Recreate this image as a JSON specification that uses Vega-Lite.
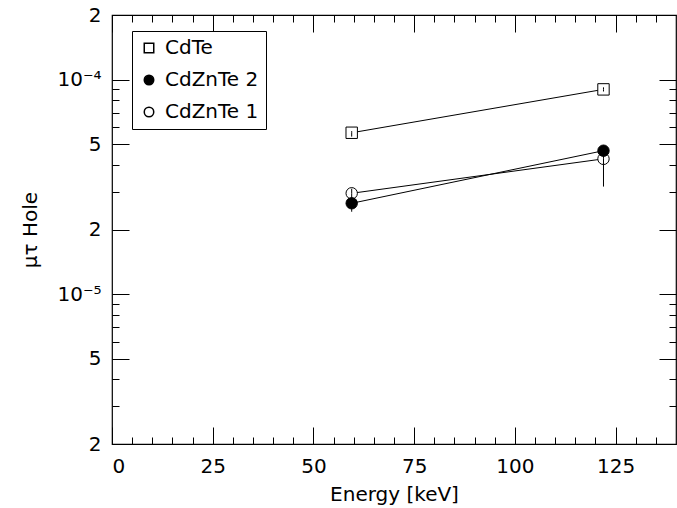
{
  "$schema": "https://vega.github.io/schema/vega-lite/v6.json",
  "width": 564,
  "height": 429,
  "autosize": "none",
  "padding": {"left": 112, "top": 15, "right": 1, "bottom": 64},
  "background": "white",
  "config": {
    "view": {"stroke": "black", "strokeWidth": 1.2},
    "axis": {
      "labelFont": "DejaVu Sans",
      "labelFontSize": 20,
      "labelColor": "black",
      "titleFont": "DejaVu Sans",
      "titleFontSize": 20,
      "titleFontWeight": "normal",
      "titleColor": "black",
      "tickColor": "black",
      "tickWidth": 1,
      "domain": false,
      "grid": false
    },
    "legend": {
      "labelFont": "DejaVu Sans",
      "labelFontSize": 20,
      "labelColor": "black"
    }
  },
  "data": {
    "values": [
      {"sample": "CdTe", "energy": 59.5, "mu": 5.65e-5, "lo": 5.42e-5, "hi": 5.75e-5},
      {"sample": "CdTe", "energy": 122, "mu": 9.0e-5, "lo": 8.8e-5, "hi": 9.2e-5},
      {"sample": "CdZnTe 1", "energy": 59.5, "mu": 2.95e-5, "lo": 2.8e-5, "hi": 3.1e-5},
      {"sample": "CdZnTe 1", "energy": 122, "mu": 4.27e-5, "lo": 3.17e-5, "hi": 4.5e-5},
      {"sample": "CdZnTe 2", "energy": 59.5, "mu": 2.65e-5, "lo": 2.42e-5, "hi": 2.8e-5},
      {"sample": "CdZnTe 2", "energy": 122, "mu": 4.66e-5, "lo": 4.5e-5, "hi": 4.8e-5}
    ]
  },
  "resolve": {"axis": {"x": "independent", "y": "independent"}},
  "layer": [
    {
      "mark": {"type": "line", "color": "black", "strokeWidth": 1},
      "encoding": {
        "x": {
          "field": "energy", "type": "quantitative",
          "scale": {"domain": [0, 140], "nice": false, "zero": false},
          "axis": {
            "orient": "bottom",
            "values": [0, 25, 50, 75, 100, 125],
            "tickSize": -17,
            "labelPadding": 29,
            "title": "Energy [keV]",
            "titlePadding": 8
          }
        },
        "y": {
          "field": "mu", "type": "quantitative",
          "scale": {"type": "log", "domain": [2e-6, 2e-4], "nice": false},
          "axis": {
            "orient": "left",
            "values": [2e-6, 5e-6, 1e-5, 2e-5, 5e-5, 1e-4, 2e-4],
            "tickSize": -17,
            "labelPadding": 28,
            "labelExpr": "datum.value > 1.5e-4 ? '2' : datum.value > 9e-5 ? '10⁻⁴' : datum.value > 4e-5 ? '5' : datum.value > 1.5e-5 ? '2' : datum.value > 9e-6 ? '10⁻⁵' : datum.value > 4e-6 ? '5' : '2'",
            "title": "μτ Hole",
            "titlePadding": 16
          }
        },
        "detail": {"field": "sample"}
      }
    },
    {
      "mark": {"type": "point", "filled": true, "stroke": "black", "strokeWidth": 1, "size": 130, "opacity": 1},
      "encoding": {
        "x": {
          "field": "energy", "type": "quantitative",
          "axis": {
            "orient": "bottom",
            "values": [5, 10, 15, 20, 30, 35, 40, 45, 55, 60, 65, 70, 80, 85, 90, 95, 105, 110, 115, 120, 130, 135],
            "tickSize": -7,
            "labels": false,
            "title": null
          }
        },
        "y": {
          "field": "mu", "type": "quantitative",
          "axis": {
            "orient": "left",
            "values": [3e-6, 4e-6, 6e-6, 7e-6, 8e-6, 9e-6, 3e-5, 4e-5, 6e-5, 7e-5, 8e-5, 9e-5],
            "tickSize": -7,
            "labels": false,
            "title": null
          }
        },
        "shape": {
          "field": "sample", "type": "nominal",
          "scale": {"domain": ["CdTe", "CdZnTe 2", "CdZnTe 1"], "range": ["square", "circle", "circle"]},
          "legend": {
            "title": null, "orient": "none", "legendX": 20, "legendY": 16,
            "strokeColor": "black", "fillColor": "white", "padding": 7,
            "symbolSize": 90, "rowPadding": 12, "labelOffset": 6,
            "encode": {"symbols": {"update": {"stroke": {"value": "black"}, "strokeWidth": {"value": 1}}}}
          }
        },
        "fill": {
          "field": "sample", "type": "nominal",
          "scale": {"domain": ["CdTe", "CdZnTe 2", "CdZnTe 1"], "range": ["white", "black", "white"]},
          "legend": {
            "title": null, "orient": "none", "legendX": 20, "legendY": 16,
            "strokeColor": "black", "fillColor": "white", "padding": 7,
            "symbolSize": 90, "rowPadding": 12, "labelOffset": 6,
            "encode": {"symbols": {"update": {"stroke": {"value": "black"}, "strokeWidth": {"value": 1}}}}
          }
        }
      }
    },
    {
      "mark": {"type": "rule", "color": "black", "strokeWidth": 1},
      "encoding": {
        "x": {
          "field": "energy", "type": "quantitative",
          "axis": {
            "orient": "top",
            "values": [0, 25, 50, 75, 100, 125],
            "tickSize": -17,
            "labels": false,
            "title": null
          }
        },
        "y": {
          "field": "lo", "type": "quantitative",
          "axis": {
            "orient": "right",
            "values": [2e-6, 5e-6, 1e-5, 2e-5, 5e-5, 1e-4, 2e-4],
            "tickSize": -17,
            "labels": false,
            "title": null
          }
        },
        "y2": {"field": "mu"}
      }
    },
    {
      "mark": {"type": "rule", "color": "black", "strokeWidth": 1},
      "encoding": {
        "x": {
          "field": "energy", "type": "quantitative",
          "axis": {
            "orient": "top",
            "values": [5, 10, 15, 20, 30, 35, 40, 45, 55, 60, 65, 70, 80, 85, 90, 95, 105, 110, 115, 120, 130, 135],
            "tickSize": -7,
            "labels": false,
            "title": null
          }
        },
        "y": {
          "field": "mu", "type": "quantitative",
          "axis": {
            "orient": "right",
            "values": [3e-6, 4e-6, 6e-6, 7e-6, 8e-6, 9e-6, 3e-5, 4e-5, 6e-5, 7e-5, 8e-5, 9e-5],
            "tickSize": -7,
            "labels": false,
            "title": null
          }
        },
        "y2": {"field": "hi"}
      }
    }
  ]
}
